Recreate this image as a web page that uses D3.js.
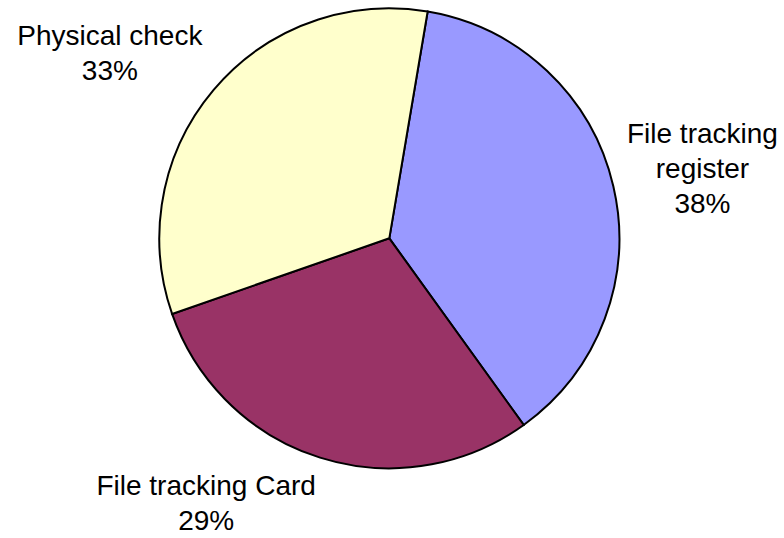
<!DOCTYPE html>
<html>
<head>
<meta charset="utf-8">
<script src="https://cdn.jsdelivr.net/npm/d3@7"></script>
<style>
  body { margin: 0; background: #fff; }
  svg { display: block; }
  .lbl { font-family: "Liberation Sans", Arial, sans-serif; font-size: 28px; fill: #000; }
</style>
</head>
<body>
<div id="chart"></div>
<script>
// slice shares (clockwise from the top)
var categories = ["File tracking register", "File tracking Card", "Physical check"];
var shares = [37.4, 29.6, 33.0];
var percentLabels = ["38%", "29%", "33%"];
var labelLines = [["File tracking", "register"], ["File tracking Card"], ["Physical check"]];
var colors = ["#9999FF", "#993366", "#FFFFCC"];

var width = 784, height = 538;
var cx = 389.3, cy = 238.3, radius = 230;
var lineGap = 35;

var svg = d3.select("#chart").append("svg")
  .attr("width", width)
  .attr("height", height);

var data = categories.map(function (c, i) {
  return { name: c, value: shares[i], pct: percentLabels[i], lines: labelLines[i], color: colors[i] };
});

var pie = d3.pie()
  .sort(null)
  .value(function (d) { return d.value; })
  .startAngle(9.6 * Math.PI / 180)
  .endAngle(9.6 * Math.PI / 180 + 2 * Math.PI);

var arc = d3.arc().innerRadius(0).outerRadius(radius);

var g = svg.append("g").attr("transform", "translate(" + cx + "," + cy + ")");

var arcs = pie(data);

g.selectAll("path.slice")
  .data(arcs)
  .enter().append("path")
  .attr("class", "slice")
  .attr("d", arc)
  .style("fill", function (d) { return d.data.color; })
  .style("stroke", "#000")
  .style("stroke-width", 2)
  .style("stroke-linejoin", "miter");

// labels: box corner nearest the pie sits just outside the rim (Excel style)
function clamp(v) { return Math.max(-1, Math.min(1, v)); }

var labels = svg.append("g");

arcs.forEach(function (d) {
  var mid = (d.startAngle + d.endAngle) / 2;
  var s = Math.sin(mid), c = -Math.cos(mid);
  var px = cx + (radius + 14) * s;
  var py = cy + (radius + 16) * c;
  var lines = d.data.lines.concat([d.data.pct]);

  var t = labels.append("text").attr("class", "lbl").attr("text-anchor", "middle");
  lines.forEach(function (l, i) {
    t.append("tspan").attr("x", 0).attr("y", i * lineGap).text(l);
  });
  var w = t.node().getBBox().width;
  var h = (lines.length - 1) * lineGap + 26;

  var bx = px + Math.sign(s) * w / 2;
  var by = py + clamp(c * 1.3) * h / 2;
  var top = by - h / 2;
  t.attr("transform", "translate(" + bx + "," + (top + 22) + ")");
});
</script>
</body>
</html>
